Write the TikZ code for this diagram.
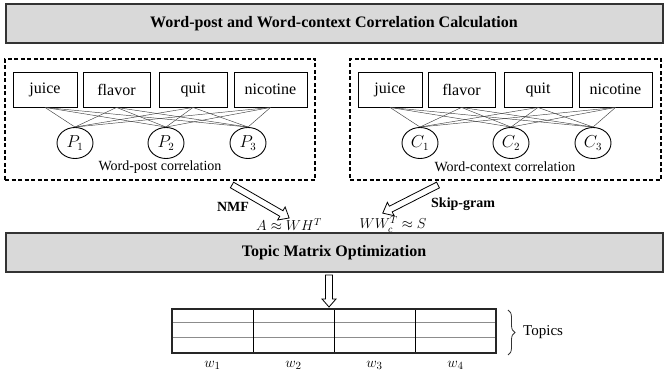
\documentclass[tikz,border=0pt]{standalone}
\usepackage{fontspec}
\setmainfont{Liberation Serif}
\usetikzlibrary{shapes.geometric,decorations.pathreplacing,calc}
% #1 tail coordinate, #2 angle, #3 length, #4 shaft half width, #5 head half width, #6 head length
\newcommand{\hollowarrow}[6]{%
  \begin{scope}[shift={#1}, rotate=#2]
    \draw[line width=0.8pt, fill=white, line join=miter]
      (0,-#4) -- ({#3-#6},-#4) -- ({#3-#6},-#5) -- (#3,0) -- ({#3-#6},#5) -- ({#3-#6},#4) -- (0,#4) -- cycle;
  \end{scope}}
\begin{document}
\begin{tikzpicture}[x=1pt,y=-1pt,
  banner/.style={draw=black!80, line width=2pt, fill=black!15, minimum width=657pt, minimum height=39pt, inner sep=0pt, font=\fontsize{16}{19}\selectfont\bfseries},
  wordbox/.style={draw, line width=0.9pt, minimum height=35pt, inner sep=0pt, font=\fontsize{16}{19}\selectfont},
  topicnode/.style={draw, ellipse, line width=0.9pt, minimum width=36pt, minimum height=31pt, inner sep=0pt, font=\fontsize{16}{19}\selectfont},
  link/.style={draw=black!75, line width=0.45pt},
  groupbox/.style={draw, dash pattern=on 4pt off 2.5pt, line width=1.1pt, inner sep=0pt},
  caption/.style={font=\fontsize{14}{17}\selectfont, inner sep=0pt},
  boldlabel/.style={font=\fontsize{14}{17}\selectfont\bfseries, inner sep=0pt},
  mathlabel/.style={font=\fontsize{14}{17}\selectfont, inner sep=0pt}
]
\useasboundingbox (0,0) rectangle (665,371);

% banners
\node[banner] (top) at (334,24) {Word-post and Word-context Correlation Calculation};
\node[banner] (opt) at (334,252.5) {Topic Matrix Optimization};

% group boxes
\node[groupbox, minimum width=310pt, minimum height=121pt] (lbox) at (160,119.5) {};
\node[groupbox, minimum width=311pt, minimum height=121pt] (rbox) at (505.5,119.5) {};

% left words
\node[wordbox, minimum width=64pt] (lw1) at (45,89.5) {juice};
\node[wordbox, minimum width=67pt] (lw2) at (116.5,89.5) {flavor};
\node[wordbox, minimum width=68pt] (lw3) at (193,89.5) {quit};
\node[wordbox, minimum width=73pt] (lw4) at (270.5,89.5) {nicotine};
% right words
\node[wordbox, minimum width=64pt] (rw1) at (390,89.5) {juice};
\node[wordbox, minimum width=67pt] (rw2) at (461.5,89.5) {flavor};
\node[wordbox, minimum width=68pt] (rw3) at (538,89.5) {quit};
\node[wordbox, minimum width=73pt] (rw4) at (615.5,89.5) {nicotine};

% topic circles
\node[topicnode] (p1) at (75,143) {$P_1$};
\node[topicnode] (p2) at (166,143) {$P_2$};
\node[topicnode] (p3) at (248,143) {$P_3$};
\node[topicnode] (c1) at (420,143) {$C_1$};
\node[topicnode] (c2) at (511,143) {$C_2$};
\node[topicnode] (c3) at (593,143) {$C_3$};

\foreach \w in {lw1,lw2,lw3,lw4}{
  \foreach \p in {p1,p2,p3}{
    \draw[link] (\w.south) -- (\p.north);
  }
}
\foreach \w in {rw1,rw2,rw3,rw4}{
  \foreach \p in {c1,c2,c3}{
    \draw[link] (\w.south) -- (\p.north);
  }
}

\node[caption] (lcap) at (160,167) {Word-post correlation};
\node[caption] (rcap) at (505,167) {Word-context correlation};

% arrows into optimisation
\coordinate (nmftail) at (232,185);
\coordinate (sgtail) at (438,185);
\hollowarrow{(nmftail)}{-30}{66}{3.2}{7.5}{9}
\hollowarrow{(sgtail)}{-153}{62}{3.2}{7.5}{9}

\node[boldlabel] (nmf) at (233,207) {NMF};
\node[mathlabel] (nmfeq) at (289,224.5) {$A \approx W H^{T}$};
\node[boldlabel, anchor=west] (sg) at (431,204) {Skip-gram};
\node[mathlabel] (sgeq) at (393,224.5) {$W W_{c}^{T} \approx S$};

% down arrow
\coordinate (downtail) at (329,275);
\hollowarrow{(downtail)}{-90}{32}{3.5}{7}{8}

% topic matrix
\draw[black!45, line width=0.8pt] (172,322) -- (496,322) (172,337) -- (496,337);
\draw[black, line width=0.8pt] (253,309) -- (253,353) (334,309) -- (334,353) (415,309) -- (415,353);
\node[draw=black!85, line width=1.4pt, minimum width=324pt, minimum height=44pt, inner sep=0pt] (table) at (334,331) {};

\draw[black!80, line width=0.8pt, decorate, decoration={brace, amplitude=7pt}] (508,310) -- (508,355);
\node[caption, font=\fontsize{15}{18}\selectfont, anchor=west] (topics) at (523,332.5) {Topics};

\node[mathlabel, font=\fontsize{15}{18}\selectfont] (w1) at (212.5,365) {$w_1$};
\node[mathlabel, font=\fontsize{15}{18}\selectfont] (w2) at (293.5,365) {$w_2$};
\node[mathlabel, font=\fontsize{15}{18}\selectfont] (w3) at (374.5,365) {$w_3$};
\node[mathlabel, font=\fontsize{15}{18}\selectfont] (w4) at (455.5,365) {$w_4$};
\end{tikzpicture}
\end{document}
